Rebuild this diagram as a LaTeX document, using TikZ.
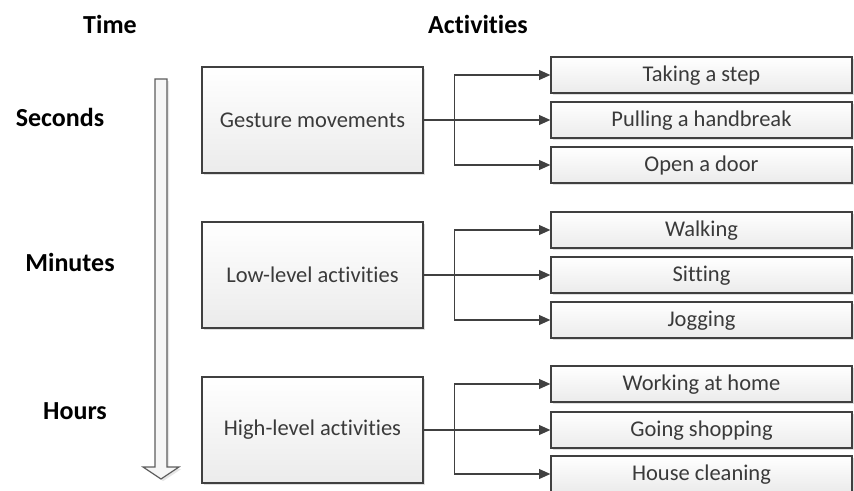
\documentclass[tikz,border=0pt]{standalone}
\usepackage{fontspec}
\setmainfont[Ligatures=NoCommon]{Carlito}
\usetikzlibrary{arrows.meta, shadows}
\definecolor{linegray}{HTML}{404040}
\definecolor{textgray}{HTML}{3A3A3A}
\definecolor{boxbottom}{HTML}{EBEBEB}
\definecolor{arrowfill}{HTML}{F6F6F6}

\begin{document}
\begin{tikzpicture}[>={Triangle[length=8pt,width=7pt]},
  mainbox/.style={draw=linegray, line width=0.9pt, top color=white, bottom color=boxbottom, minimum width=5.525cm, minimum height=2.65cm, inner sep=0pt, text=textgray, font=\fontsize{16}{19}\selectfont, drop shadow={shadow xshift=1.5pt, shadow yshift=-1.5pt, opacity=0.25}},
  subbox/.style={draw=linegray, line width=0.9pt, top color=white, bottom color=boxbottom, minimum width=7.525cm, minimum height=0.9cm, inner sep=0pt, text height=12.4pt, text depth=2.6pt, text=textgray, font=\fontsize{16}{19}\selectfont, drop shadow={shadow xshift=1.5pt, shadow yshift=-1.5pt, opacity=0.25}},
  heading/.style={font=\fontsize{18.5}{22}\selectfont\bfseries, text=black},
  link/.style={draw=linegray, line width=0.9pt}]
  \useasboundingbox (0,0) rectangle (21.35,-12.275);

  % Kopfzeile
  \node[heading] (time) at (2.75,-0.6) {Time};
  \node[heading] (act) at (11.95,-0.6) {Activities};

  % Zeitskala
  \node[heading] (sec) at (1.5,-2.925) {Seconds};
  \node[heading] (min) at (1.75,-6.55) {Minutes};
  \node[heading] (hrs) at (1.875,-10.275) {Hours};
  \draw[draw=linegray!85, fill=arrowfill, line width=0.8pt, drop shadow={shadow xshift=1.5pt, shadow yshift=-1.5pt, opacity=0.2}]
    (3.875,-1.975) -- (4.175,-1.975) -- (4.175,-11.675) -- (4.475,-11.675) -- (4.025,-11.975) -- (3.575,-11.675) -- (3.875,-11.675) -- cycle;

  % Hauptblöcke
  \node[mainbox] (gest) at (7.8125,-3.0) {Gesture movements};
  \node[mainbox] (low) at (7.8125,-6.875) {Low-level activities};
  \node[mainbox] (high) at (7.8125,-10.75) {High-level activities};

  % Einzelne Aktivitäten
  \node[subbox] (step) at (17.5375,-1.875) {Taking a step};
  \node[subbox] (pull) at (17.5375,-3.0) {Pulling a handbreak};
  \node[subbox] (door) at (17.5375,-4.125) {Open a door};

  \node[subbox] (walk) at (17.5375,-5.75) {Walking};
  \node[subbox] (sit) at (17.5375,-6.875) {Sitting};
  \node[subbox] (jog) at (17.5375,-8.0) {Jogging};

  \node[subbox] (work) at (17.5375,-9.6) {Working at home};
  \node[subbox] (shop) at (17.5375,-10.75) {Going shopping};
  \node[subbox] (clean) at (17.5375,-11.85) {House cleaning};

  % Verzweigungen
  \draw[link, ->] (gest.east) -- (pull.west);
  \draw[link, ->] (gest.east) -- ++(0.775,0) |- (step.west);
  \draw[link, ->] (gest.east) -- ++(0.775,0) |- (door.west);

  \draw[link, ->] (low.east) -- (sit.west);
  \draw[link, ->] (low.east) -- ++(0.775,0) |- (walk.west);
  \draw[link, ->] (low.east) -- ++(0.775,0) |- (jog.west);

  \draw[link, ->] (high.east) -- (shop.west);
  \draw[link, ->] (high.east) -- ++(0.775,0) |- (work.west);
  \draw[link, ->] (high.east) -- ++(0.775,0) |- (clean.west);
\end{tikzpicture}
\end{document}
